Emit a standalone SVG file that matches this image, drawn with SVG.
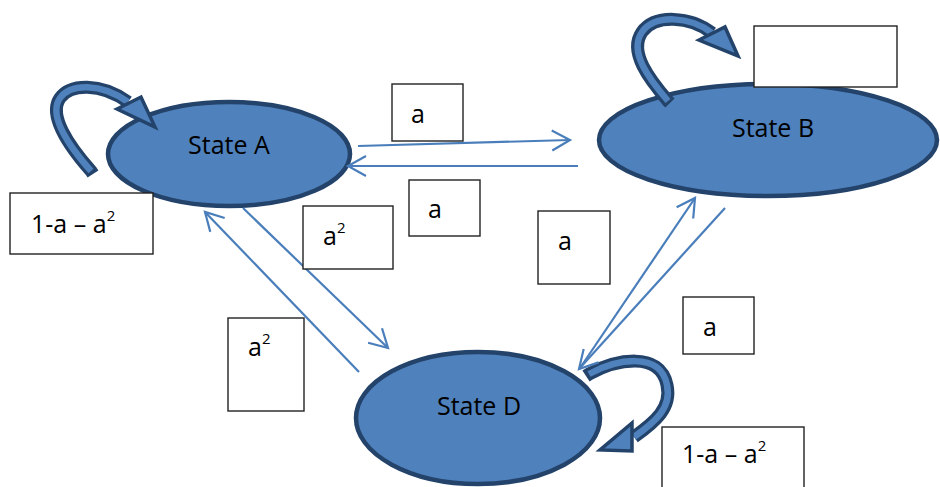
<svg xmlns="http://www.w3.org/2000/svg" width="940" height="487" viewBox="0 0 940 487">
  <style>
    .state { fill: #4f81bd; stroke: #24436a; stroke-width: 4.5; }
    .name { font-family: "Open Sans", "Liberation Sans", sans-serif; font-size: 25px; fill: #000; text-anchor: middle; }
    .edge { fill: none; stroke: #4a7ebb; stroke-width: 2.2; }
    .loop-out { fill: none; stroke: #24436a; stroke-width: 13; }
    .loop-in { fill: none; stroke: #4f81bd; stroke-width: 6.5; }
    .loop-head { fill: #4f81bd; stroke: #24436a; stroke-width: 3.5; stroke-linejoin: miter; }
    .box { fill: #fff; stroke: #222; stroke-width: 1.4; }
    .lbl { font-family: "Open Sans", "Liberation Sans", sans-serif; font-size: 25px; fill: #000; }
    .sup { font-size: 15px; }
  </style>
  <defs>
    <marker id="open" markerUnits="userSpaceOnUse" markerWidth="24" markerHeight="26" refX="19" refY="11" orient="auto">
      <path d="M1,1 L19,11 L1,21" fill="none" stroke="#4a7ebb" stroke-width="2.2"/>
    </marker>
  </defs>

  <rect width="940" height="487" fill="#fff"/>

  <!-- states -->
  <g id="state-a">
    <ellipse class="state" cx="229" cy="154" rx="121" ry="52"/>
    <text class="name" x="229" y="154">State A</text>
  </g>
  <g id="state-b">
    <ellipse class="state" cx="768" cy="140" rx="169" ry="56"/>
    <text class="name" x="773" y="137">State B</text>
  </g>
  <g id="state-d">
    <ellipse class="state" cx="478" cy="418" rx="122" ry="66"/>
    <text class="name" x="479" y="415">State D</text>
  </g>

  <!-- transitions -->
  <g id="connectors">
    <!-- self loops (block arrows) -->
    <g id="loop-a">
      <path class="loop-out" d="M93,174 L91,171 C68,145 48,115 60,98 C70,84 100,82 128,102"/>
      <path class="loop-in" d="M91,171 C68,145 48,115 60,98 C70,84 100,82 128,102"/>
      <polygon class="loop-head" points="117,109 141,97 155,127"/>
    </g>
    <g id="loop-b">
      <path class="loop-out" d="M670,103 L668,101 C650,80 628,52 642,32 C655,14 690,16 712,33"/>
      <path class="loop-in" d="M668,101 C650,80 628,52 642,32 C655,14 690,16 712,33"/>
      <polygon class="loop-head" points="699,40 725,27 738,56"/>
    </g>
    <g id="loop-d">
      <path class="loop-out" d="M586,376 L589,374 C615,360 660,350 667,385 C672,408 655,422 634,437"/>
      <path class="loop-in" d="M589,374 C615,360 660,350 667,385 C672,408 655,422 634,437"/>
      <polygon class="loop-head" points="632,423 632,451 600,450"/>
    </g>

    <!-- straight transitions -->
    <line class="edge" x1="358" y1="146" x2="570" y2="140" marker-end="url(#open)"/>
    <line class="edge" x1="578" y1="166" x2="348" y2="166" marker-end="url(#open)"/>
    <line class="edge" x1="243" y1="208" x2="388" y2="348" marker-end="url(#open)"/>
    <line class="edge" x1="359" y1="372" x2="205" y2="212" marker-end="url(#open)"/>
    <line class="edge" x1="580" y1="368" x2="695" y2="198" marker-end="url(#open)"/>
    <line class="edge" x1="725" y1="208" x2="579" y2="369" marker-end="url(#open)"/>
  </g>

  <!-- probability labels -->
  <g id="labels">
    <rect class="box" x="10" y="193" width="143" height="61"/>
    <text class="lbl" x="31" y="233">1-a – a<tspan class="sup" dy="-12">2</tspan></text>

    <rect class="box" x="392" y="84" width="71" height="57"/>
    <text class="lbl" x="411" y="123">a</text>

    <rect class="box" x="409" y="180" width="71" height="56"/>
    <text class="lbl" x="428" y="218">a</text>

    <rect class="box" x="303" y="206" width="90" height="63"/>
    <text class="lbl" x="323" y="245">a<tspan class="sup" dy="-12">2</tspan></text>

    <rect class="box" x="228" y="318" width="76" height="93"/>
    <text class="lbl" x="248" y="356">a<tspan class="sup" dy="-12">2</tspan></text>

    <rect class="box" x="538" y="211" width="72" height="73"/>
    <text class="lbl" x="558" y="250">a</text>

    <rect class="box" x="683" y="297" width="71" height="57"/>
    <text class="lbl" x="703" y="336">a</text>

    <rect class="box" x="754" y="26" width="143" height="61"/>

    <rect class="box" x="662" y="427" width="142" height="64"/>
    <text class="lbl" x="682" y="463">1-a – a<tspan class="sup" dy="-12">2</tspan></text>
  </g>
</svg>
